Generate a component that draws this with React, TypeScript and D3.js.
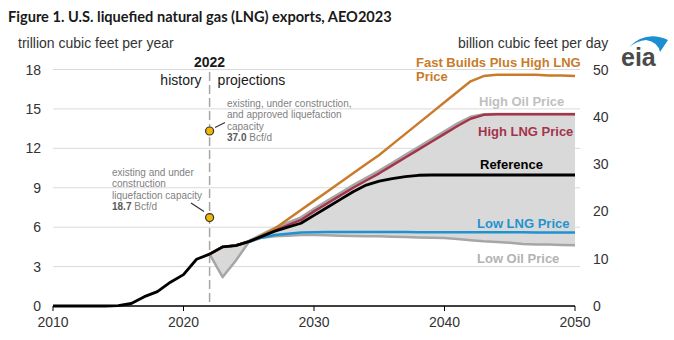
import React from "react";
import * as d3 from "d3";

const histYears = [2010, 2011, 2012, 2013, 2014, 2015, 2016, 2017, 2018, 2019, 2020, 2021, 2022];
const histValues = [0.0, 0.0, 0.0, 0.0, 0.0, 0.03, 0.19, 0.71, 1.09, 1.81, 2.39, 3.56, 3.95];

const projYears = d3.range(2022, 2051);
const reference = [3.95, 4.5, 4.6, 4.9, 5.3, 5.7, 6.0, 6.3, 6.9, 7.5, 8.1, 8.7, 9.2, 9.5, 9.7, 9.85, 9.95, 9.97, 9.97, 9.97, 9.97, 9.97, 9.97, 9.97, 9.97, 9.97, 9.97, 9.97, 9.97];
const highLNG = [3.95, 4.5, 4.6, 4.9, 5.3, 5.75, 6.15, 6.55, 7.2, 7.8, 8.4, 9.0, 9.55, 10.1, 10.7, 11.3, 11.9, 12.5, 13.1, 13.7, 14.25, 14.55, 14.6, 14.6, 14.6, 14.6, 14.6, 14.6, 14.6];
const highOil = [3.95, 4.5, 4.6, 4.95, 5.45, 5.95, 6.35, 6.75, 7.4, 8.0, 8.6, 9.2, 9.75, 10.3, 10.9, 11.5, 12.1, 12.7, 13.3, 13.9, 14.4, 14.6, 14.62, 14.62, 14.62, 14.62, 14.62, 14.62, 14.62];
const fastBuilds = [3.95, 4.5, 4.6, 4.9, 5.35, 5.9, 6.6, 7.3, 8.0, 8.7, 9.4, 10.1, 10.8, 11.5, 12.3, 13.1, 13.9, 14.7, 15.5, 16.3, 17.1, 17.5, 17.6, 17.6, 17.6, 17.6, 17.55, 17.55, 17.5];
const lowLNG = [3.95, 4.5, 4.6, 4.9, 5.2, 5.4, 5.5, 5.6, 5.62, 5.63, 5.63, 5.63, 5.63, 5.63, 5.63, 5.63, 5.62, 5.62, 5.62, 5.62, 5.62, 5.62, 5.62, 5.61, 5.61, 5.6, 5.6, 5.6, 5.6];
const lowOil = [3.95, 2.2, 3.45, 4.85, 5.2, 5.3, 5.35, 5.4, 5.4, 5.38, 5.35, 5.33, 5.3, 5.3, 5.28, 5.25, 5.22, 5.2, 5.18, 5.1, 5.0, 4.92, 4.88, 4.82, 4.72, 4.68, 4.68, 4.65, 4.62];

const leftTicks = [0, 3, 6, 9, 12, 15, 18];
const rightTicks = [0, 10, 20, 30, 40, 50];
const xTicks = [2010, 2020, 2030, 2040, 2050];
const capacityMarks = [37.0, 18.7];

const FONT = "'Liberation Sans', Arial, sans-serif";

export default function App() {
  const x = d3.scaleLinear().domain([2010, 2050]).range([53, 575]);
  const y = d3.scaleLinear().domain([0, 18]).range([306, 69.5]);
  const yR = d3.scaleLinear().domain([0, 50]).range([306, 69.5]);

  const line = (yrs: number[], vals: number[]) =>
    d3.line<number>().x((_, i) => x(yrs[i])).y((v) => y(v))(vals) || "";

  const areaPath =
    d3
      .area<number>()
      .x((i) => x(projYears[i]))
      .y0((i) => y(lowOil[i]))
      .y1((i) => y(Math.max(highOil[i], reference[i], highLNG[i], lowLNG[i])))(projYears.map((_, i) => i)) || "";

  const x22 = x(2022);

  return (
    <svg width={674} height={340} style={{ position: "absolute", left: 0, top: 0, background: "#fff" }} fontFamily={FONT}>
      {/* Title */}
      <text x={8} y={22} fontFamily="Lato, 'Open Sans', sans-serif" fontWeight={700} fontSize={14.6} fill="#1a1a1a">
        Figure 1. U.S. liquefied natural gas (LNG) exports, AEO2023
      </text>
      <text x={18} y={48} fontSize={14} fill="#333">trillion cubic feet per year</text>
      <text x={458} y={48} fontSize={14} fill="#333">billion cubic feet per day</text>

      {/* eia logo */}
      <path d="M629,47 Q646,30 668,40 Q664,46 660,52 Q658,42 646,40 Q637,41 629,47 Z" fill="#1b8fd2" />
      <text x={621} y={66} fontSize={25} fontWeight={700} fill="#4a4a4a" fontFamily={FONT}>eia</text>

      {/* gridlines */}
      {leftTicks.filter((t) => t > 0).map((t) => (
        <line key={t} x1={53} x2={580} y1={y(t)} y2={y(t)} stroke="#d9d9d9" strokeWidth={1} />
      ))}

      {/* left labels */}
      {leftTicks.map((t) => (
        <text key={t} x={41} y={y(t) + 5} textAnchor="end" fontSize={14} fill="#333">{t}</text>
      ))}
      {/* right labels */}
      {rightTicks.map((t) => (
        <text key={t} x={593} y={yR(t) + 5} textAnchor="start" fontSize={14} fill="#333">{t}</text>
      ))}

      {/* shaded range */}
      <path d={areaPath} fill="#d9d9d9" stroke="none" />

      {/* 2022 divider */}
      <line x1={x22} x2={x22} y1={72} y2={306} stroke="#a6a6a6" strokeWidth={1.5} strokeDasharray="9,4" />
      <text x={x22} y={67} textAnchor="middle" fontSize={14} fontWeight={700} fill="#1a1a1a">2022</text>
      <text x={x22 - 8} y={85} textAnchor="end" fontSize={14} fill="#1a1a1a">history</text>
      <text x={x22 + 8} y={85} textAnchor="start" fontSize={14} fill="#1a1a1a">projections</text>

      {/* scenario lines */}
      <path d={line(projYears, lowOil)} fill="none" stroke="#a6a6a6" strokeWidth={2.5} strokeLinejoin="round" />
      <path d={line(projYears, highOil)} fill="none" stroke="#a6a6a6" strokeWidth={2.5} strokeLinejoin="round" />
      <path d={line(projYears, lowLNG)} fill="none" stroke="#1f93d2" strokeWidth={2.5} strokeLinejoin="round" />
      <path d={line(projYears, highLNG)} fill="none" stroke="#a5344b" strokeWidth={2.5} strokeLinejoin="round" />
      <path d={line(projYears, fastBuilds)} fill="none" stroke="#c97b2c" strokeWidth={2.5} strokeLinejoin="round" />
      <path d={line(projYears, reference)} fill="none" stroke="#000" strokeWidth={2.8} strokeLinejoin="round" />
      <path d={line(histYears, histValues)} fill="none" stroke="#000" strokeWidth={2.8} strokeLinejoin="round" />

      {/* baseline */}
      <line x1={53} x2={575} y1={306} y2={306} stroke="#000" strokeWidth={1.5} />
      {xTicks.map((t) => (
        <g key={t}>
          <line x1={x(t)} x2={x(t)} y1={306} y2={311} stroke="#000" strokeWidth={1} />
          <text x={x(t)} y={327} textAnchor="middle" fontSize={14} fill="#333">{t}</text>
        </g>
      ))}

      {/* annotations */}
      <line x1={215} y1={127.5} x2={225} y2={122.5} stroke="#333" strokeWidth={1.2} />
      <line x1={191} y1={203} x2={204} y2={211.5} stroke="#333" strokeWidth={1.2} />
      {capacityMarks.map((c) => (
        <circle key={c} cx={x22} cy={yR(c)} r={4} fill="#f2b705" stroke="#333" strokeWidth={1.2} />
      ))}
      <g fontSize={10} fill="#7f7f7f">
        <text x={227} y={107}>existing, under construction,</text>
        <text x={227} y={118.3}>and approved liquefaction</text>
        <text x={227} y={129.6}>capacity</text>
        <text x={227} y={141}><tspan fontWeight={700} fill="#595959">37.0</tspan> Bcf/d</text>
        <text x={112} y={176}>existing and under</text>
        <text x={112} y={187.3}>construction</text>
        <text x={112} y={198.6}>liquefaction capacity</text>
        <text x={112} y={210}><tspan fontWeight={700} fill="#595959">18.7</tspan> Bcf/d</text>
      </g>

      {/* series labels */}
      <g fontSize={13} fontWeight={700}>
        <text x={416} y={66.5} fill="#c97b2c">Fast Builds Plus High LNG</text>
        <text x={416} y={80.5} fill="#c97b2c">Price</text>
        <text x={479} y={105.5} fill="#bfbfbf">High Oil Price</text>
        <text x={478} y={135.5} fill="#a5344b">High LNG Price</text>
        <text x={480} y={168.5} fill="#000">Reference</text>
        <text x={477} y={227.5} fill="#1f93d2">Low LNG Price</text>
        <text x={477} y={262.5} fill="#b3b3b3">Low Oil Price</text>
      </g>
    </svg>
  );
}
